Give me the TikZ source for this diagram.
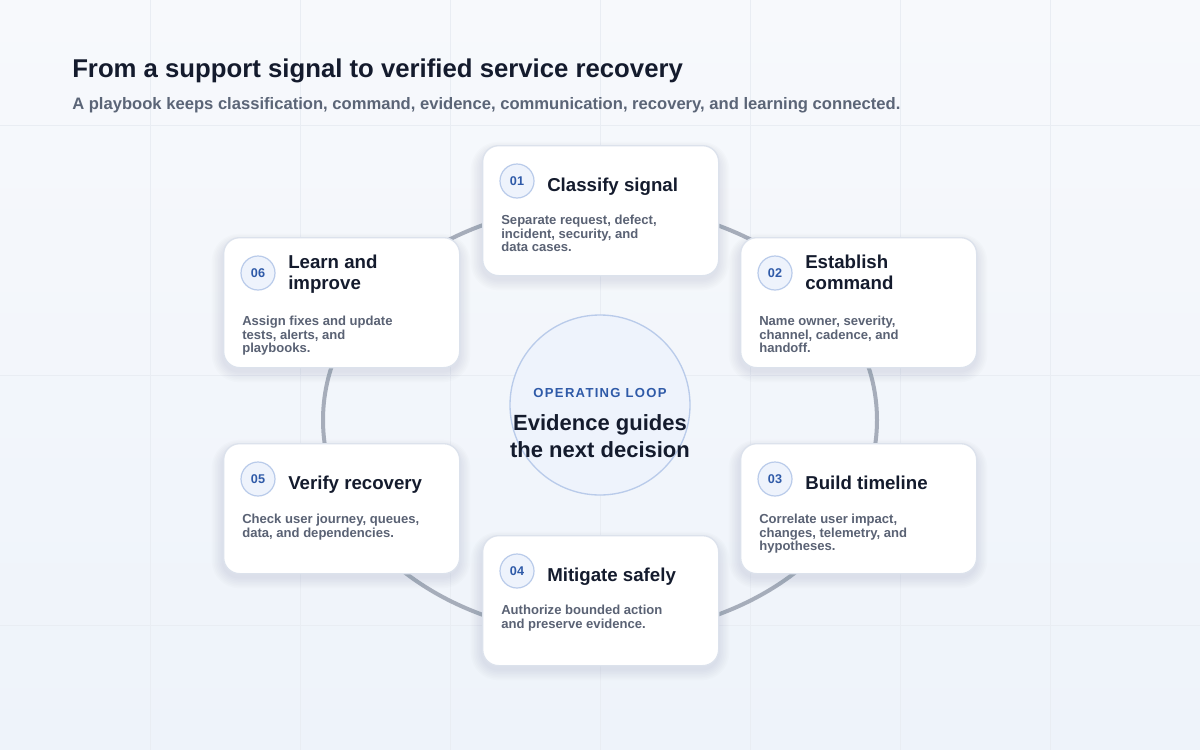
\documentclass[tikz,border=0pt]{standalone}
\usepackage{fontspec}
\setmainfont{Liberation Sans}
\newfontfamily\spaced[LetterSpace=10]{Liberation Sans}
\definecolor{bgA}{HTML}{F7F9FC}
\definecolor{bgB}{HTML}{EEF3FA}
\definecolor{gridc}{HTML}{E9EDF3}
\definecolor{ink}{HTML}{141B2D}
\definecolor{sub}{HTML}{5B6577}
\definecolor{ring}{HTML}{A6ADBA}
\definecolor{cardb}{HTML}{DCE2EC}
\definecolor{blue}{HTML}{2F5AA8}
\definecolor{badgef}{HTML}{EEF3FC}
\definecolor{badgeb}{HTML}{B9CBEA}
\definecolor{desc}{HTML}{5A6274}
\definecolor{shad}{HTML}{6A7890}
\tikzset{
  card/.style={draw=cardb,line width=1pt,fill=white,rounded corners=12pt,minimum width=177pt,minimum height=97.5pt,inner sep=0pt,anchor=north west},
  badge/.style={circle,draw=badgeb,line width=0.9pt,fill=badgef,minimum size=25.5pt,inner sep=0pt,text=blue,font=\bfseries\fontsize{9.5}{10}\selectfont},
  ctitle/.style={anchor=north west,inner sep=0pt,text=ink,align=left,font=\bfseries\fontsize{14}{15.8}\selectfont},
  cdesc/.style={anchor=north west,inner sep=0pt,text=desc,align=left,font=\bfseries\fontsize{9.8}{10}\selectfont},
}
\newcommand{\mkcard}[8]{%
  \foreach \s in {1,...,7}{
    \fill[shad,opacity=0.018,rounded corners={12pt+\s*1.2pt}] ([shift={(-\s*1.6,6-\s*1.6+\s*0.3)}]#2,#3) rectangle ([shift={(236+\s*1.6,130+4+\s*1.6)}]#2,#3);
  }
  \node[card] (c#1) at (#2,#3) {};
  \node[badge] (b#1) at ([shift={(35,36)}]#2,#3) {#1};
  \node[ctitle] (t#1) at ([shift={(65,#7)}]#2,#3) {#4};
  \node[cdesc] (d#1) at ([shift={(19,#8)}]#2,#3) {#5\\#6};
}
\begin{document}
\begin{tikzpicture}[x=0.75pt,y=-0.75pt]
\shade[top color=bgA,bottom color=bgB] (0,0) rectangle (1200,750);
\useasboundingbox (0,0) rectangle (1200,750);
\foreach \x in {150,300,...,1050} \draw[gridc,line width=0.6pt] (\x,0) -- (\x,750);
\foreach \y in {125,375,625} \draw[gridc,line width=0.6pt] (0,\y) -- (1200,\y);
\node[anchor=base west,inner sep=0pt,text=ink,font=\bfseries\fontsize{19.3}{20}\selectfont] (title) at (72,77) {From a support signal to verified service recovery};
\node[anchor=base west,inner sep=0pt,text=sub,font=\bfseries\fontsize{12.45}{13}\selectfont] (subtitle) at (72,109) {A playbook keeps classification, command, evidence, communication, recovery, and learning connected.};
\coordinate (ctr) at (600,420);
\draw[ring,line width=3pt] (ctr) ellipse [x radius=277,y radius=215];
\node[circle,draw=badgeb,line width=1pt,fill=badgef,minimum size=135pt,inner sep=0pt] (hub) at (600,405) {};
\node[text=blue,inner sep=0pt,font=\spaced\bfseries\fontsize{9.8}{10}\selectfont] (hubk) at (600,393) {OPERATING LOOP};
\node[text=ink,inner sep=0pt,align=center,font=\bfseries\fontsize{16.5}{19.8}\selectfont] (hubt) at (600,436) {Evidence guides\\the next decision};
\mkcard{01}{482}{145}{Classify signal}{Separate request, defect,}{incident, security, and\\data cases.}{33}{70}
\mkcard{02}{740}{237}{Establish\\command}{Name owner, severity,}{channel, cadence, and\\handoff.}{18}{79}
\mkcard{03}{740}{443}{Build timeline}{Correlate user impact,}{changes, telemetry, and\\hypotheses.}{33}{71}
\mkcard{04}{482}{535}{Mitigate safely}{Authorize bounded action}{and preserve evidence.}{33}{70}
\mkcard{05}{223}{443}{Verify recovery}{Check user journey, queues,}{data, and dependencies.}{33}{71}
\mkcard{06}{223}{237}{Learn and\\improve}{Assign fixes and update}{tests, alerts, and\\playbooks.}{18}{79}
\end{tikzpicture}
\end{document}
